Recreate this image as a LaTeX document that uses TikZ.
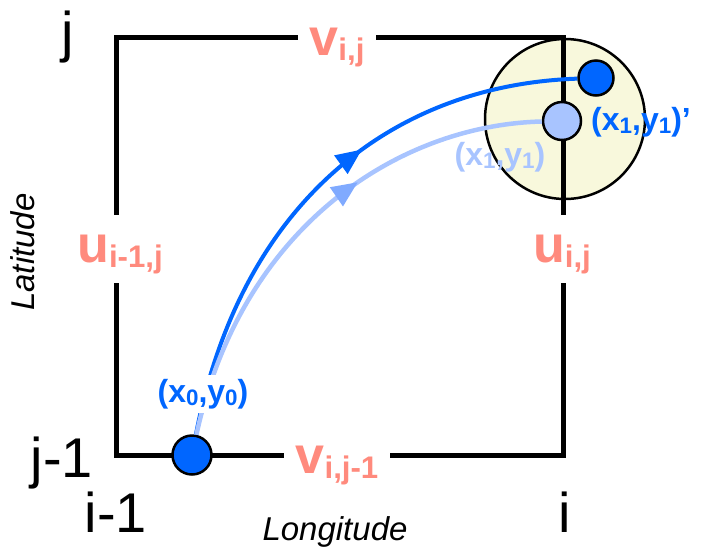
\documentclass[tikz,border=0pt]{standalone}
\usepackage{fontspec}
\setmainfont{Liberation Sans}
\usetikzlibrary{arrows.meta, decorations.markings}
\definecolor{edgelbl}{RGB}{255,138,125}
\definecolor{pathdark}{RGB}{0,102,255}
\definecolor{pathlight}{RGB}{168,196,255}
\definecolor{arrowlight}{RGB}{128,170,255}
\definecolor{zonefill}{RGB}{248,248,220}
\newcommand{\sbx}[2][.6]{\raisebox{-.1em}{\scalebox{#1}{#2}}}

\begin{document}
\begin{tikzpicture}[x=1pt, y=-1pt,
	corner/.style={font=\fontsize{56}{60}\selectfont, anchor=base, inner sep=0pt},
	axis/.style={font=\fontsize{33}{36}\selectfont\itshape, inner sep=0pt},
	flux/.style={font=\fontsize{52}{56}\selectfont\bfseries, text=edgelbl, fill=white,
		anchor=base, inner xsep=12pt, inner ysep=8pt, text height=39pt, text depth=13pt},
	ptlbl/.style={font=\fontsize{32}{35}\selectfont\bfseries, anchor=base, inner sep=4pt},
	pt/.style={circle, draw=black, line width=2.5pt, inner sep=0pt},
	track/.style={line width=4pt, postaction=decorate}]
	\useasboundingbox (0,0) rectangle (705,550);

	% search zone round the end point
	\node[circle, draw=black, line width=2.5pt, fill=zonefill, minimum size=160pt] (zone) at (565,119) {};

	% grid cell
	\coordinate (sw) at (116,455);
	\coordinate (ne) at (563.5,37);
	\draw[line width=5pt] (sw) rectangle (ne);

	\node[flux] (vtop) at (337,55) {v\sbx{i,j}};
	\node[flux] (vbot) at (337,473) {v\sbx{i,j-1}};
	\node[flux] (uleft) at (120,262) {u\sbx{i-1,j}};
	\node[flux] (uright) at (562,262) {u\sbx{i,j}};

	\node[corner] (cj) at (68,51) {j};
	\node[corner] (cj1) at (62,477) {j-1};
	\node[corner] (ci1) at (116,532) {i-1};
	\node[corner] (ci) at (565,532) {i};

	\node[axis, anchor=base] (lon) at (335,540) {Longitude};
	\node[axis, rotate=90] (lat) at (23,252) {Latitude};

	% particle positions
	\node[pt, fill=pathdark, minimum size=39pt] (p0) at (192,455) {};
	\node[pt, fill=pathlight, minimum size=38pt] (p1) at (562,121) {};
	\node[pt, fill=pathdark, minimum size=35pt] (p1n) at (596,78) {};

	% trajectories
	\draw[track, pathdark, decoration={markings, mark=at position 0.595 with {\arrow{Triangle[length=26pt,width=22pt]}}}]
		(p0) .. controls +(48,-250) and +(-206,7) .. (p1n);
	\draw[track, pathlight, line width=4.5pt, decoration={markings, mark=at position 0.61 with {\arrow{Triangle[length=26pt,width=22pt,color=arrowlight]}}}]
		(p0) .. controls +(50,-230) and +(-162,4) .. (p1);

	\node[ptlbl, text=pathdark, fill=white] (lp0) at (203,402) {(x\sbx[.7]{0},y\sbx[.7]{0})};
	\node[ptlbl, text=pathdark] (lp1n) at (641,130) {(x\sbx[.7]{1},y\sbx[.7]{1})'};
	\node[ptlbl, text=pathlight] (lp1) at (500,165) {(x\sbx[.7]{1},y\sbx[.7]{1})};
\end{tikzpicture}
\end{document}
